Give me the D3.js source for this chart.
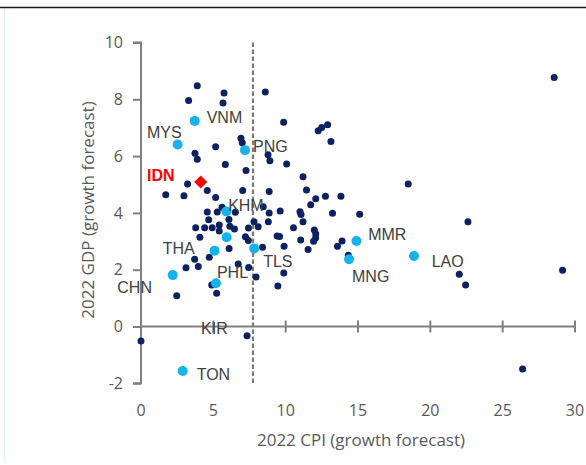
<!DOCTYPE html>
<html>
<head>
<meta charset="utf-8">
<script src="https://cdn.jsdelivr.net/npm/d3@7"></script>
<style>
  html, body { margin: 0; padding: 0; background: #fff; }
  svg { display: block; }
</style>
</head>
<body>
<svg id="chart" width="586" height="465"></svg>
<script>
// ---------- DATA ----------
// Other economies (dark dots): 2022 CPI forecast, 2022 GDP forecast
const otherCPI = [3.89, 3.29, 5.74, 5.67, 6.91, 7.0, 5.16, 3.73, 3.89, 5.83, 7.26, 8.59, 9.86, 12.25, 12.49, 12.9, 13.13, 8.78, 8.91, 10.07,
  11.2, 28.56, 3.22, 4.58, 1.71, 2.97, 5.16, 7.03, 5.6, 6.52, 4.58, 5.27, 6.08, 4.68, 8.86, 9.62, 10.99, 11.06, 11.44, 12.08,
  12.75, 13.82, 11.73, 13.24, 15.12, 7.81, 8.8, 11.2, 3.78, 4.4, 4.92, 5.41, 5.41, 6.14, 6.46, 7.43, 8.1, 7.22, 7.42, 4.07,
  9.41, 9.58, 10.54, 11.98, 12.08, 12.07, 11.93, 11.04, 13.9, 13.58, 11.55, 9.89, 8.4, 6.09, 4.72, 3.71, 3.96, 3.11, 6.72, 7.44,
  7.95, 9.87, 14.33, 4.89, 5.23, 2.47, 9.46, 18.47, 8.86, 8.45, 22.0, 22.44, 22.6, 29.14, 0.0, 7.33, 26.38];
const otherGDP = [8.48, 7.96, 8.22, 7.87, 6.63, 6.47, 6.33, 6.1, 5.89, 5.70, 5.49, 8.26, 7.19, 6.89, 7.01, 7.1, 6.51, 6.05, 5.84, 5.72,
  5.27, 8.77, 5.02, 4.79, 4.64, 4.6, 4.54, 4.79, 4.2, 4.02, 4.03, 4.03, 3.77, 3.76, 4.0, 4.07, 4.04, 3.94, 4.81, 4.5,
  4.59, 4.59, 4.29, 3.99, 3.95, 3.69, 3.69, 3.69, 3.48, 3.48, 3.48, 3.57, 3.36, 3.53, 3.43, 3.47, 3.51, 3.16, 3.03, 3.14,
  3.19, 3.17, 3.48, 3.4, 3.26, 3.12, 3.0, 3.05, 3.01, 2.83, 2.71, 2.83, 2.79, 2.75, 2.44, 2.37, 2.11, 2.07, 2.2, 2.08,
  1.74, 1.88, 2.51, 1.46, 1.17, 1.08, 1.43, 5.02, 4.75, 4.22, 1.84, 1.46, 3.69, 1.98, -0.51, -0.33, -1.5];

// Highlighted Asia-Pacific economies (light blue dots)
const peerNames = ["VNM", "MYS", "PNG", "KHM", "", "THA", "TLS", "CHN", "PHL", "MMR", "MNG", "LAO", "TON"];
const peerCPI   = [3.71, 2.53, 7.19, 5.9, 5.92, 5.08, 7.82, 2.19, 5.18, 14.89, 14.38, 18.87, 2.88];
const peerGDP   = [7.24, 6.41, 6.21, 4.05, 3.14, 2.67, 2.75, 1.81, 1.52, 3.01, 2.37, 2.48, -1.57];

// Labelled dark dot
const kirName = "KIR";
const kirCPI = 7.33;
const kirGDP = -0.33;

// Focus economy (red diamond)
const focusName = "IDN";
const focusCPI = 4.13;
const focusGDP = 5.09;

// Reference line (CPI)
const refLineCPI = 7.75;

// Axis ticks
const xTicks = [0, 5, 10, 15, 20, 25, 30];
const yTicks = [-2, 0, 2, 4, 6, 8, 10];
const xTitle = "2022 CPI (growth forecast)";
const yTitle = "2022 GDP (growth forecast)";

// ---------- LAYOUT (label placement, px offsets from the point) ----------
const labelOffsets = {
  VNM: [12, -3], MYS: [-30.7, -11.6], PNG: [8, -4], KHM: [1.8, -6.3], THA: [-51.8, -2.7],
  TLS: [9, 13.4], CHN: [-55.4, 12.5], PHL: [1, -11], MMR: [11.8, -6.7], MNG: [3, 17.4],
  LAO: [17.7, 5], TON: [14, 3], KIR: [-46, -7], IDN: [-53.7, -6.3]
};

const svg = d3.select("#chart");
const W = 586, H = 465;

// frame
svg.append("line").attr("x1", 4.5).attr("x2", 4.5).attr("y1", 8).attr("y2", 463)
  .attr("stroke", "#dff2f7").attr("stroke-width", 1.5);
svg.append("line").attr("x1", 0).attr("x2", W).attr("y1", 7.5).attr("y2", 7.5)
  .attr("stroke", "#1a1a1a").attr("stroke-width", 1.6);

const x = d3.scaleLinear().domain([0, 30]).range([141, 575]);
const y = d3.scaleLinear().domain([-2, 10]).range([383.3, 42.5]);

const axisColor = "#808080";
const tickFont = "'Open Sans', 'Noto Sans', sans-serif";
const labelFont = "'Liberation Sans', Arial, sans-serif";

// Y axis (ticks pointing left)
const yAxis = d3.axisLeft(y).tickValues(yTicks).tickSize(8).tickPadding(10).tickFormat(d3.format("d"));
const gy = svg.append("g").attr("transform", `translate(${x(0)},0)`).call(yAxis);
gy.select(".domain").attr("stroke", axisColor).attr("stroke-width", 2);
gy.selectAll(".tick line").attr("stroke", axisColor).attr("stroke-width", 2);
gy.selectAll(".tick text").attr("fill", "#595959").attr("font-size", 16).attr("font-family", tickFont)
  .text(d => d < 0 ? "-" + Math.abs(d) : d);
gy.select(".domain").attr("d", `M-8,${y(-2)}H0V${y(10)}H-8`);

// X axis at y = 0 with crossing ticks
const gx = svg.append("g").attr("transform", `translate(0,${y(0)})`);
gx.append("line").attr("x1", x(0)).attr("x2", x(30)).attr("y1", 0).attr("y2", 0)
  .attr("stroke", axisColor).attr("stroke-width", 2);
gx.selectAll("line.tk").data(xTicks.filter(d => d > 0)).join("line").attr("class", "tk")
  .attr("x1", d => x(d)).attr("x2", d => x(d)).attr("y1", -6).attr("y2", 6)
  .attr("stroke", axisColor).attr("stroke-width", 2);

// X tick labels below the plot
svg.append("g").selectAll("text").data(xTicks).join("text")
  .attr("x", d => x(d)).attr("y", 410).attr("dy", "0.35em")
  .attr("text-anchor", "middle").attr("fill", "#595959")
  .attr("font-size", 16).attr("font-family", tickFont).text(d => d);

// Axis titles
svg.append("text").attr("x", 361).attr("y", 440).attr("dy", "0.35em").attr("text-anchor", "middle")
  .attr("fill", "#595959").attr("font-size", 17).attr("font-family", tickFont).text(xTitle);
svg.append("text").attr("transform", "translate(88,210) rotate(-90)").attr("dy", "0.35em")
  .attr("text-anchor", "middle").attr("fill", "#595959").attr("font-size", 17)
  .attr("font-family", tickFont).text(yTitle);

// Dashed reference line
const refX = Math.round(x(refLineCPI));
svg.append("line").attr("x1", refX).attr("x2", refX)
  .attr("y1", y(10)).attr("y2", y(-2) + 1.5)
  .attr("stroke", "#7a7a7a").attr("stroke-width", 2.2).attr("stroke-dasharray", "4.5,2.5");

// Dark dots
const others = otherCPI.map((c, i) => ({ c, g: otherGDP[i] }));
svg.append("g").selectAll("circle").data(others).join("circle")
  .attr("cx", d => x(d.c)).attr("cy", d => y(d.g)).attr("r", 3.5).attr("fill", "#0b2160");

// Light blue dots
const peers = peerCPI.map((c, i) => ({ c, g: peerGDP[i], n: peerNames[i] }));
svg.append("g").selectAll("circle").data(peers).join("circle")
  .attr("cx", d => x(d.c)).attr("cy", d => y(d.g)).attr("r", 5).attr("fill", "#17b2ec");

// Red diamond
svg.append("path").attr("d", d3.symbol(d3.symbolDiamond2, 110)())
  .attr("transform", `translate(${x(focusCPI)},${y(focusGDP)})`)
  .attr("fill", "#ff0000");

// Labels
const labels = peers.filter(d => d.n).concat([{ c: kirCPI, g: kirGDP, n: kirName }]);
svg.append("g").selectAll("text").data(labels).join("text")
  .attr("x", d => x(d.c) + labelOffsets[d.n][0]).attr("y", d => y(d.g) + labelOffsets[d.n][1])
  .attr("dy", "0.35em").attr("fill", "#404040").attr("font-size", 16)
  .attr("font-family", labelFont).text(d => d.n);

svg.append("text").attr("x", x(focusCPI) + labelOffsets[focusName][0])
  .attr("y", y(focusGDP) + labelOffsets[focusName][1]).attr("dy", "0.35em")
  .attr("fill", "#ff0000").attr("font-weight", "bold").attr("font-size", 16)
  .attr("font-family", labelFont).text(focusName);
</script>
</body>
</html>
